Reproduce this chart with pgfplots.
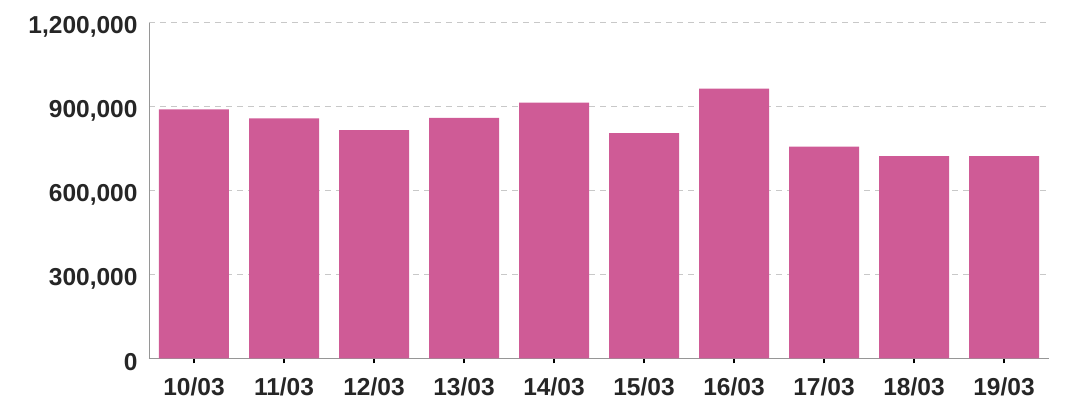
\documentclass[border=0pt]{standalone}
\usepackage{pgfplots}
\pgfplotsset{compat=1.18}
\usepackage{fontspec}
\setmainfont{Liberation Sans}
\definecolor{barpink}{RGB}{207,91,150}
\definecolor{gridgray}{RGB}{200,200,200}
\definecolor{axgray}{RGB}{150,150,150}
\begin{document}
\begin{tikzpicture}
\path[use as bounding box] (-149bp,-42.7bp) rectangle (919bp,358.3bp);
\begin{axis}[
  at={(0,0)}, anchor=south west,
  scale only axis,
  width=900bp, height=335.6bp,
  xmin=-0.5, xmax=9.5,
  ymin=0, ymax=1200000,
  axis x line*=bottom, axis y line*=left,
  axis line style={axgray, line width=0.8bp},
  xtick={0,...,9},
  xticklabels={10/03,11/03,12/03,13/03,14/03,15/03,16/03,17/03,18/03,19/03},
  ytick={0,300000,600000,900000,1200000},
  scaled y ticks=false,
  /pgf/number format/.cd, fixed, 1000 sep={,}, assume math mode=true,
  /pgfplots/.cd,
  tick label style={font=\fontsize{24.5bp}{28bp}\selectfont\bfseries, black!85},
  yticklabel style={xshift=-3bp, yshift=-4bp},
  xticklabel style={yshift=-11bp},
  tick align=outside,
  x tick style={black, line width=1.6bp},
  major tick length=5bp,
  y tick style={draw=none},
  ymajorgrids,
  major grid style={gridgray, line width=0.8bp, dash pattern=on 6bp off 5bp},
]
\addplot[ybar, bar width=70bp, fill=barpink, draw=none] coordinates {
 (0,890000) (1,858000) (2,816000) (3,860000) (4,914000)
 (5,805000) (6,964000) (7,757000) (8,723000) (9,723000)
};
\end{axis}
\end{tikzpicture}
\end{document}
